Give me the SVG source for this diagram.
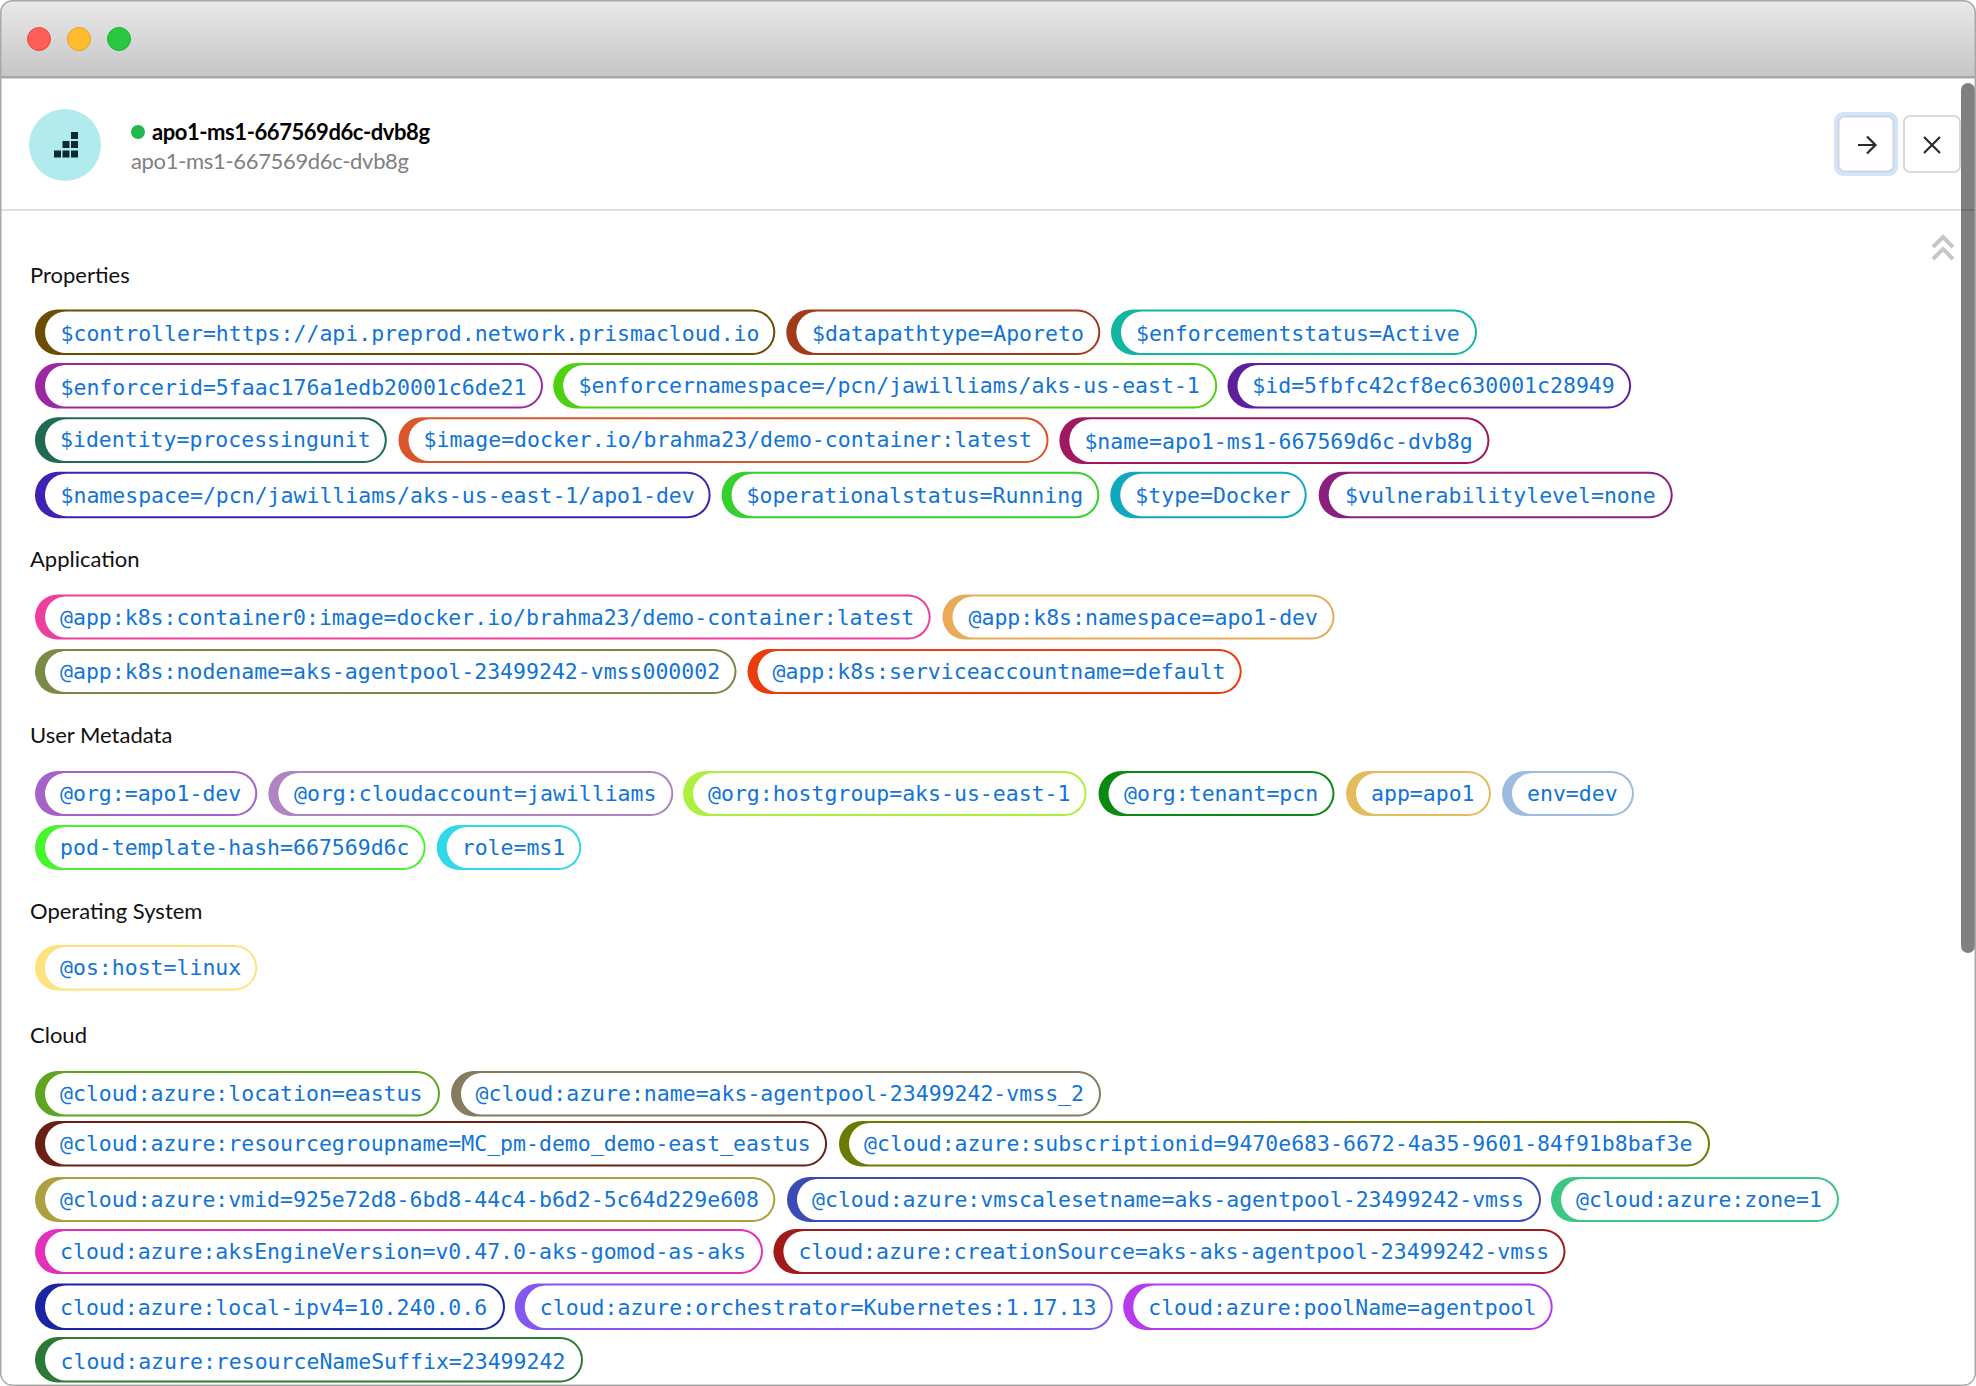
<svg xmlns="http://www.w3.org/2000/svg" width="1976" height="1386" viewBox="0 0 1976 1386">
<style>
text{white-space:pre}
.c{font-family:"DejaVu Sans Mono","Liberation Mono",monospace;font-size:21.5px;fill:#1174d6}
.h{font-family:Lato,"Open Sans",sans-serif;font-size:22px;fill:#111}
.i{fill:#fff}
</style>
<defs><linearGradient id="tb" x1="0" y1="0" x2="0" y2="1"><stop offset="0" stop-color="#e9e9e9"/><stop offset="1" stop-color="#c6c6c6"/></linearGradient></defs>
<g id="window">
<rect x="0.5" y="0.5" width="1975" height="1385" rx="12" fill="#fff"/>
<path d="M0 77V12A12 12 0 0 1 12 0H1964A12 12 0 0 1 1976 12V77Z" fill="url(#tb)"/>
<rect x="0" y="76" width="1976" height="2.5" fill="#a9a9a9"/>
<circle cx="39" cy="39" r="11.5" fill="#ff5f57" stroke="#e5483f"/>
<circle cx="79" cy="39" r="11.5" fill="#ffbd2e" stroke="#e0a020"/>
<circle cx="119" cy="39" r="11.5" fill="#28c940" stroke="#1fb032"/>
</g>
<g id="header">
<circle cx="65" cy="145" r="36" fill="#b2ebee"/>
<g fill="#0d2a30"><rect x="54" y="150.5" width="7" height="7"/><rect x="62.5" y="150.5" width="7" height="7"/><rect x="71" y="150.5" width="7" height="7"/><rect x="62.5" y="141" width="7" height="7"/><rect x="71" y="141" width="7" height="7"/><rect x="71" y="132" width="7" height="7"/></g>
<circle cx="138" cy="132" r="7" fill="#21b84f"/>
<text x="152" y="140" font-family="Lato,'Open Sans',sans-serif" font-size="22" font-weight="700" fill="#000" textLength="278">apo1-ms1-667569d6c-dvb8g</text>
<text x="131" y="169" font-family="Lato,'Open Sans',sans-serif" font-size="22" fill="#808080" textLength="278">apo1-ms1-667569d6c-dvb8g</text>
<rect x="0" y="209" width="1976" height="2" fill="#e0e0e0"/>
<rect x="1834" y="112" width="64" height="64" rx="9" fill="#cfe6fb"/>
<rect x="1838.5" y="116.5" width="55" height="55" rx="6" fill="#fff" stroke="#d6d6d6" stroke-width="2"/>
<path d="M1858 145H1875M1867 136.5L1875.5 145L1867 153.5" fill="none" stroke="#2b2b2b" stroke-width="2.2"/>
<rect x="1904" y="116" width="56" height="56" rx="6" fill="#fff" stroke="#d9d9d9" stroke-width="2"/>
<path d="M1924 137L1940 153M1940 137L1924 153" fill="none" stroke="#2b2b2b" stroke-width="2.2"/>
<path d="M1933 247L1943 237L1953 247M1933 259L1943 249L1953 259" fill="none" stroke="#c6c6c6" stroke-width="4"/>
</g>
<text class="h" x="30" y="283">Properties</text>
<text class="h" x="30" y="567">Application</text>
<text class="h" x="30" y="743">User Metadata</text>
<text class="h" x="30" y="919">Operating System</text>
<text class="h" x="30" y="1043">Cloud</text>
<g id="chip-1"><rect x="35" y="309.5" width="740.3" height="45.5" rx="22.7" fill="#6b4c00"/><rect class="i" x="45" y="311.5" width="728.3" height="41.5" rx="20.7"/><text class="c" x="60.5" y="341">$controller=https://api.preprod.network.prismacloud.io</text></g>
<g id="chip-2"><rect x="786.3" y="309.5" width="314" height="45.5" rx="22.7" fill="#a33a1a"/><rect class="i" x="796.3" y="311.5" width="302" height="41.5" rx="20.7"/><text class="c" x="812" y="341">$datapathtype=Aporeto</text></g>
<g id="chip-3"><rect x="1111" y="309.5" width="366" height="45.5" rx="22.7" fill="#12b5a0"/><rect class="i" x="1121" y="311.5" width="354" height="41.5" rx="20.7"/><text class="c" x="1136" y="341">$enforcementstatus=Active</text></g>
<g id="chip-4"><rect x="35" y="363" width="508" height="45.5" rx="22.7" fill="#9c27a0"/><rect class="i" x="45" y="365" width="496" height="41.5" rx="20.7"/><text class="c" x="60.5" y="395">$enforcerid=5faac176a1edb20001c6de21</text></g>
<g id="chip-5"><rect x="553.2" y="363" width="664" height="45.5" rx="22.7" fill="#4fd10f"/><rect class="i" x="563.2" y="365" width="652" height="41.5" rx="20.7"/><text class="c" x="578.5" y="393">$enforcernamespace=/pcn/jawilliams/aks-us-east-1</text></g>
<g id="chip-6"><rect x="1227.5" y="363" width="403.6" height="45.5" rx="22.7" fill="#5e1f9e"/><rect class="i" x="1237.5" y="365" width="391.6" height="41.5" rx="20.7"/><text class="c" x="1252.3" y="393">$id=5fbfc42cf8ec630001c28949</text></g>
<g id="chip-7"><rect x="35" y="417.3" width="351.8" height="45.7" rx="22.8" fill="#1f6b50"/><rect class="i" x="45" y="419.3" width="339.8" height="41.7" rx="20.8"/><text class="c" x="60" y="447">$identity=processingunit</text></g>
<g id="chip-8"><rect x="398.5" y="417.3" width="650" height="45.7" rx="22.8" fill="#d9562b"/><rect class="i" x="408.5" y="419.3" width="638" height="41.7" rx="20.8"/><text class="c" x="423.5" y="447">$image=docker.io/brahma23/demo-container:latest</text></g>
<g id="chip-9"><rect x="1059.4" y="417.3" width="430" height="46.7" rx="23" fill="#a0195f"/><rect class="i" x="1069.4" y="419.3" width="418" height="42.7" rx="21"/><text class="c" x="1084.4" y="449">$name=apo1-ms1-667569d6c-dvb8g</text></g>
<g id="chip-10"><rect x="35" y="471.7" width="675.6" height="46.5" rx="23" fill="#4120b5"/><rect class="i" x="45" y="473.7" width="663.6" height="42.5" rx="21"/><text class="c" x="60.5" y="503">$namespace=/pcn/jawilliams/aks-us-east-1/apo1-dev</text></g>
<g id="chip-11"><rect x="721.6" y="471.7" width="377.7" height="46.5" rx="23" fill="#35d02d"/><rect class="i" x="731.6" y="473.7" width="365.7" height="42.5" rx="21"/><text class="c" x="746.6" y="503">$operationalstatus=Running</text></g>
<g id="chip-12"><rect x="1110.3" y="471.7" width="196.4" height="46.5" rx="23" fill="#0fa8bf"/><rect class="i" x="1120.3" y="473.7" width="184.4" height="42.5" rx="21"/><text class="c" x="1135.3" y="503">$type=Docker</text></g>
<g id="chip-13"><rect x="1318.7" y="471.7" width="354" height="46.5" rx="23" fill="#8a1f7f"/><rect class="i" x="1328.7" y="473.7" width="342" height="42.5" rx="21"/><text class="c" x="1345" y="503">$vulnerabilitylevel=none</text></g>
<g id="chip-14"><rect x="35" y="594.5" width="895.7" height="45" rx="22.5" fill="#ee3f9e"/><rect class="i" x="45" y="596.5" width="883.7" height="41" rx="20.5"/><text class="c" x="60" y="625">@app:k8s:container0:image=docker.io/brahma23/demo-container:latest</text></g>
<g id="chip-15"><rect x="942.5" y="594.5" width="392" height="45" rx="22.5" fill="#e8ab57"/><rect class="i" x="952.5" y="596.5" width="380" height="41" rx="20.5"/><text class="c" x="968.5" y="625">@app:k8s:namespace=apo1-dev</text></g>
<g id="chip-16"><rect x="35" y="649" width="701.5" height="45" rx="22.5" fill="#7a8a45"/><rect class="i" x="45" y="651" width="689.5" height="41" rx="20.5"/><text class="c" x="60" y="679">@app:k8s:nodename=aks-agentpool-23499242-vmss000002</text></g>
<g id="chip-17"><rect x="747.5" y="649" width="494.2" height="45" rx="22.5" fill="#ea3c0c"/><rect class="i" x="757.5" y="651" width="482.2" height="41" rx="20.5"/><text class="c" x="772.5" y="679">@app:k8s:serviceaccountname=default</text></g>
<g id="chip-18"><rect x="35" y="771" width="222.3" height="45" rx="22.5" fill="#a463c8"/><rect class="i" x="45" y="773" width="210.3" height="41" rx="20.5"/><text class="c" x="60" y="801">@org:=apo1-dev</text></g>
<g id="chip-19"><rect x="268.3" y="771" width="405" height="45" rx="22.5" fill="#b084c0"/><rect class="i" x="278.3" y="773" width="393" height="41" rx="20.5"/><text class="c" x="294" y="801">@org:cloudaccount=jawilliams</text></g>
<g id="chip-20"><rect x="683" y="771" width="403.6" height="45" rx="22.5" fill="#aef03f"/><rect class="i" x="693" y="773" width="391.6" height="41" rx="20.5"/><text class="c" x="708" y="801">@org:hostgroup=aks-us-east-1</text></g>
<g id="chip-21"><rect x="1098.5" y="771" width="236" height="45" rx="22.5" fill="#0a8a12"/><rect class="i" x="1108.5" y="773" width="224" height="41" rx="20.5"/><text class="c" x="1124" y="801">@org:tenant=pcn</text></g>
<g id="chip-22"><rect x="1346" y="771" width="145" height="45" rx="22.5" fill="#e3bc5b"/><rect class="i" x="1356" y="773" width="133" height="41" rx="20.5"/><text class="c" x="1371" y="801">app=apo1</text></g>
<g id="chip-23"><rect x="1502" y="771" width="132" height="45" rx="22.5" fill="#9dbce0"/><rect class="i" x="1512" y="773" width="120" height="41" rx="20.5"/><text class="c" x="1527" y="801">env=dev</text></g>
<g id="chip-24"><rect x="35" y="825" width="390.7" height="45" rx="22.5" fill="#46f52b"/><rect class="i" x="45" y="827" width="378.7" height="41" rx="20.5"/><text class="c" x="60" y="855">pod-template-hash=667569d6c</text></g>
<g id="chip-25"><rect x="436.7" y="825" width="144.6" height="45" rx="22.5" fill="#30d8e8"/><rect class="i" x="446.7" y="827" width="132.6" height="41" rx="20.5"/><text class="c" x="461.7" y="855">role=ms1</text></g>
<g id="chip-26"><rect x="35" y="945" width="222.3" height="45.5" rx="22.7" fill="#ffe27f"/><rect class="i" x="45" y="947" width="210.3" height="41.5" rx="20.7"/><text class="c" x="60" y="975">@os:host=linux</text></g>
<g id="chip-27"><rect x="35" y="1071" width="405" height="45.5" rx="22.7" fill="#5fa520"/><rect class="i" x="45" y="1073" width="393" height="41.5" rx="20.7"/><text class="c" x="60" y="1101">@cloud:azure:location=eastus</text></g>
<g id="chip-28"><rect x="451" y="1071" width="650" height="45.5" rx="22.7" fill="#857c5f"/><rect class="i" x="461" y="1073" width="638" height="41.5" rx="20.7"/><text class="c" x="475.6" y="1101">@cloud:azure:name=aks-agentpool-23499242-vmss_2</text></g>
<g id="chip-29"><rect x="35" y="1121" width="792.1" height="45.5" rx="22.7" fill="#6b1f14"/><rect class="i" x="45" y="1123" width="780.1" height="41.5" rx="20.7"/><text class="c" x="60" y="1151">@cloud:azure:resourcegroupname=MC_pm-demo_demo-east_eastus</text></g>
<g id="chip-30"><rect x="839" y="1121" width="871" height="45.5" rx="22.7" fill="#6b7a00"/><rect class="i" x="849" y="1123" width="859" height="41.5" rx="20.7"/><text class="c" x="864" y="1151">@cloud:azure:subscriptionid=9470e683-6672-4a35-9601-84f91b8baf3e</text></g>
<g id="chip-31"><rect x="35" y="1177" width="740.3" height="45" rx="22.5" fill="#ada040"/><rect class="i" x="45" y="1179" width="728.3" height="41" rx="20.5"/><text class="c" x="60" y="1207">@cloud:azure:vmid=925e72d8-6bd8-44c4-b6d2-5c64d229e608</text></g>
<g id="chip-32"><rect x="787" y="1177" width="754" height="45" rx="22.5" fill="#3a4bb5"/><rect class="i" x="797" y="1179" width="742" height="41" rx="20.5"/><text class="c" x="812" y="1207">@cloud:azure:vmscalesetname=aks-agentpool-23499242-vmss</text></g>
<g id="chip-33"><rect x="1551" y="1177" width="288" height="45" rx="22.5" fill="#3cc583"/><rect class="i" x="1561" y="1179" width="276" height="41" rx="20.5"/><text class="c" x="1576" y="1207">@cloud:azure:zone=1</text></g>
<g id="chip-34"><rect x="35" y="1229" width="728" height="45" rx="22.5" fill="#e32fba"/><rect class="i" x="45" y="1231" width="716" height="41" rx="20.5"/><text class="c" x="60" y="1259">cloud:azure:aksEngineVersion=v0.47.0-aks-gomod-as-aks</text></g>
<g id="chip-35"><rect x="773.4" y="1229" width="792.1" height="45" rx="22.5" fill="#a01a1a"/><rect class="i" x="783.4" y="1231" width="780.1" height="41" rx="20.5"/><text class="c" x="798.4" y="1259">cloud:azure:creationSource=aks-aks-agentpool-23499242-vmss</text></g>
<g id="chip-36"><rect x="35" y="1283.5" width="470" height="46.5" rx="23" fill="#1a25a5"/><rect class="i" x="45" y="1285.5" width="458" height="42.5" rx="21"/><text class="c" x="60" y="1315">cloud:azure:local-ipv4=10.240.0.6</text></g>
<g id="chip-37"><rect x="514.8" y="1283.5" width="597.9" height="46.5" rx="23" fill="#8458f0"/><rect class="i" x="524.8" y="1285.5" width="585.9" height="42.5" rx="21"/><text class="c" x="539.8" y="1315">cloud:azure:orchestrator=Kubernetes:1.17.13</text></g>
<g id="chip-38"><rect x="1123.2" y="1283.5" width="429.5" height="46.5" rx="23" fill="#b63bec"/><rect class="i" x="1133.2" y="1285.5" width="417.5" height="42.5" rx="21"/><text class="c" x="1148.2" y="1315">cloud:azure:poolName=agentpool</text></g>
<g id="chip-39"><rect x="35" y="1337" width="548" height="45.5" rx="22.7" fill="#2a7a35"/><rect class="i" x="45" y="1339" width="536" height="41.5" rx="20.7"/><text class="c" x="60.5" y="1369">cloud:azure:resourceNameSuffix=23499242</text></g>
<rect x="1961" y="83" width="14" height="870" rx="7" fill="#808080"/>
<rect x="1961" y="209" width="14" height="2" fill="#6f6f6f"/>
<rect x="0.75" y="0.75" width="1974.5" height="1384.5" rx="12" fill="none" stroke="#a9a9a9" stroke-width="1.5"/>
<g id="connectors"/>
</svg>
